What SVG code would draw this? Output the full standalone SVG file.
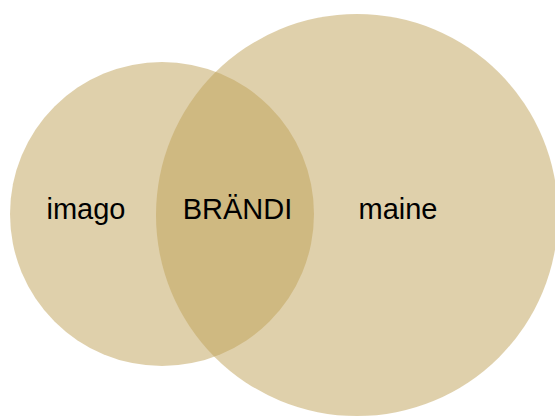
<svg xmlns="http://www.w3.org/2000/svg" width="555" height="417" viewBox="0 0 555 417">
<style>
.c{fill:#BFA157;fill-opacity:0.5}
.t{font-family:"Liberation Sans",Arial,sans-serif;font-size:29px;fill:#000;text-anchor:middle}
</style>
<rect width="555" height="417" fill="#fff"/>
<g id="node-imago"><circle class="c" cx="162" cy="214" r="152"/></g>
<g id="node-maine"><circle class="c" cx="357" cy="215" r="201"/></g>
<g id="connectors"></g>
<g id="labels">
<text class="t" x="86" y="219">imago</text>
<text class="t" x="237.5" y="219">BRÄNDI</text>
<text class="t" x="398" y="219">maine</text>
</g>
</svg>
